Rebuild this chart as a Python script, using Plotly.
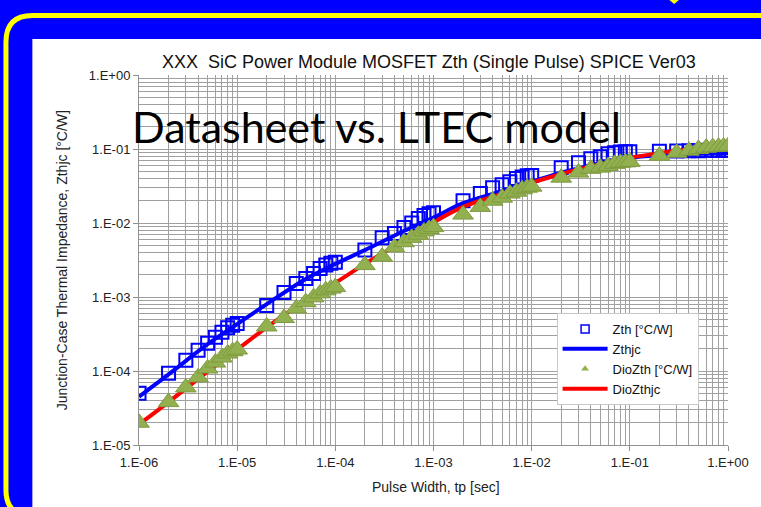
import plotly.graph_objects as go

# ---------------- data ----------------
pulse_width = [
    1e-6, 2e-6, 3e-6, 4e-6, 5e-6, 6e-6, 7e-6, 8e-6, 9e-6,
    1e-5, 2e-5, 3e-5, 4e-5, 5e-5, 6e-5, 7e-5, 8e-5, 9e-5,
    1e-4, 2e-4, 3e-4, 4e-4, 5e-4, 6e-4, 7e-4, 8e-4, 9e-4,
    1e-3, 2e-3, 3e-3, 4e-3, 5e-3, 6e-3, 7e-3, 8e-3, 9e-3,
    1e-2, 2e-2, 3e-2, 4e-2, 5e-2, 6e-2, 7e-2, 8e-2, 9e-2,
    1e-1, 2e-1, 3e-1, 4e-1, 5e-1, 6e-1, 7e-1, 8e-1, 9e-1,
    1.0,
]

zth = [
    5.0e-5, 9.3e-5, 1.40e-4, 1.90e-4, 2.37e-4, 2.85e-4, 3.33e-4, 3.85e-4, 4.15e-4,
    4.4e-4, 7.7e-4, 1.15e-3, 1.52e-3, 1.78e-3, 2.08e-3, 2.43e-3, 2.70e-3, 2.85e-3,
    2.95e-3, 4.3e-3, 6.3e-3, 7.2e-3, 8.7e-3, 1.0e-2, 1.15e-2, 1.26e-2, 1.33e-2,
    1.38e-2, 2.0e-2, 2.5e-2, 3.0e-2, 3.3e-2, 3.6e-2, 4.0e-2, 4.2e-2, 4.35e-2,
    4.4e-2, 5.6e-2, 6.5e-2, 7.4e-2, 7.85e-2, 8.6e-2, 8.9e-2, 9.1e-2, 9.2e-2,
    9.2e-2, 9.3e-2, 9.4e-2, 9.5e-2, 9.5e-2, 9.6e-2, 9.6e-2, 9.6e-2, 9.6e-2,
    9.6e-2,
]

dio_zth = [
    2.0e-5, 3.8e-5, 6.0e-5, 8.2e-5, 1.08e-4, 1.30e-4, 1.52e-4, 1.72e-4, 1.85e-4,
    1.95e-4, 4.0e-4, 5.2e-4, 7.0e-4, 8.5e-4, 9.9e-4, 1.12e-3, 1.23e-3, 1.30e-3,
    1.36e-3, 2.7e-3, 3.5e-3, 4.7e-3, 5.5e-3, 6.3e-3, 6.95e-3, 7.7e-3, 8.3e-3,
    8.8e-3, 1.3e-2, 1.65e-2, 2.0e-2, 2.2e-2, 2.5e-2, 2.65e-2, 2.85e-2, 3.0e-2,
    3.1e-2, 4.1e-2, 4.8e-2, 5.4e-2, 5.6e-2, 5.9e-2, 6.3e-2, 6.5e-2, 6.6e-2,
    6.7e-2, 8.1e-2, 8.9e-2, 9.5e-2, 1.0e-1, 1.04e-1, 1.06e-1, 1.07e-1, 1.08e-1,
    1.09e-1,
]

model_time = [
    1e-6, 2e-6, 5e-6, 1e-5, 2e-5, 5e-5, 1e-4, 2e-4, 5e-4, 1e-3,
    2e-3, 5e-3, 1e-2, 2e-2, 5e-2, 1e-1, 2e-1, 5e-1, 1.0,
]
zthjc = [
    4.5e-5, 9.0e-5, 2.3e-4, 4.3e-4, 8.0e-4, 1.75e-3, 2.8e-3, 4.3e-3, 7.8e-3, 1.18e-2,
    1.85e-2, 2.7e-2, 3.6e-2, 4.8e-2, 6.4e-2, 7.6e-2, 8.2e-2, 8.6e-2, 8.8e-2,
]
dio_zthjc = [
    1.9e-5, 3.8e-5, 9.8e-5, 1.95e-4, 3.9e-4, 9.0e-4, 1.55e-3, 2.8e-3, 5.8e-3, 1.02e-2,
    1.65e-2, 2.5e-2, 3.5e-2, 4.6e-2, 6.3e-2, 7.6e-2, 8.8e-2, 1.03e-1, 1.12e-1,
]

x_tick_vals = [1e-6, 1e-5, 1e-4, 1e-3, 1e-2, 1e-1, 1.0]
x_tick_text = ["1.E-06", "1.E-05", "1.E-04", "1.E-03", "1.E-02", "1.E-01", "1.E+00"]
y_tick_vals = [1e-5, 1e-4, 1e-3, 1e-2, 1e-1, 1.0]
y_tick_text = ["1.E-05", "1.E-04", "1.E-03", "1.E-02", "1.E-01", "1.E+00"]

title_text = "XXX  SiC Power Module MOSFET Zth (Single Pulse) SPICE Ver03"
overlay_text = "Datasheet vs. LTEC model"
x_title = "Pulse Width, tp [sec]"
y_title = "Junction-Case Thermal Impedance, Zthjc [°C/W]"

# ---------------- geometry helpers ----------------
W, H = 761, 507
L, R, T, B = 139, 730, 75, 445  # plot area in pixels


def px(x):
    return (x - L) / (R - L)


def py(y):
    return (B - y) / (B - T)


def minor_vals(lo, hi):
    vals = []
    for k in range(lo, hi):
        for m in range(2, 10):
            vals.append(m * 10.0 ** k)
    return vals


FONT = "Liberation Sans, Arial, sans-serif"
BLUE = "#0000FF"
RED = "#FF0000"
GREEN = "#92B050"

fig = go.Figure()

fig.add_trace(go.Scatter(
    x=pulse_width, y=zth, mode="markers", showlegend=False,
    marker=dict(symbol="square-open", size=13, color=BLUE, line=dict(width=2, color=BLUE)),
))
fig.add_trace(go.Scatter(
    x=model_time, y=zthjc, mode="lines", showlegend=False,
    line=dict(color=BLUE, width=4, shape="spline"),
))
fig.add_trace(go.Scatter(
    x=model_time, y=dio_zthjc, mode="lines", showlegend=False,
    line=dict(color=RED, width=4, shape="spline"),
))
fig.add_trace(go.Scatter(
    x=pulse_width, y=dio_zth, mode="markers", showlegend=False,
    marker=dict(symbol="triangle-up", size=18, color=GREEN, line=dict(width=1, color="#7F9A3F")),
))

# legend entries
fig.add_trace(go.Scatter(x=[None], y=[None], mode="markers", name="Zth [°C/W]",
                         marker=dict(symbol="square-open", size=8, color=BLUE, line=dict(width=1.5, color=BLUE))))
fig.add_trace(go.Scatter(x=[None], y=[None], mode="lines", name="Zthjc",
                         line=dict(color=BLUE, width=4)))
fig.add_trace(go.Scatter(x=[None], y=[None], mode="markers", name="DioZth [°C/W]",
                         marker=dict(symbol="triangle-up", size=7, color=GREEN, line=dict(width=0))))
fig.add_trace(go.Scatter(x=[None], y=[None], mode="lines", name="DioZthjc",
                         line=dict(color=RED, width=4)))

shapes = [
    # white slide area
    dict(type="rect", xref="paper", yref="paper", layer="below",
         x0=px(32), x1=px(W + 5), y0=py(H + 5), y1=py(39),
         fillcolor="white", line=dict(width=0)),
    # yellow rounded border
    dict(type="path", xref="paper", yref="paper", layer="below",
         path=(f"M {px(W + 10)},{py(15.5)} L {px(32)},{py(15.5)} "
               f"Q {px(5.5)},{py(15.5)} {px(5.5)},{py(42)} "
               f"L {px(5.5)},{py(490)} Q {px(5.5)},{py(516)} {px(32)},{py(516)} "
               f"L {px(W + 10)},{py(516)}"),
         line=dict(color="#FFFF00", width=5)),
    # small yellow mark at top
    dict(type="path", xref="paper", yref="paper", layer="below",
         path=f"M {px(670)},{py(-1)} L {px(682)},{py(-1)} L {px(676)},{py(4)} Z",
         fillcolor="#FFFF00", line=dict(width=0)),
]

annotations = [
    dict(text=title_text, xref="paper", yref="paper", x=px(430), y=py(62),
         xanchor="center", yanchor="middle", showarrow=False,
         font=dict(family=FONT, size=18, color="#111")),
    dict(text=y_title, xref="paper", yref="paper", x=px(62), y=py(260),
         xanchor="center", yanchor="middle", showarrow=False, textangle=-90,
         font=dict(family=FONT, size=14, color="#222")),
    dict(text=x_title, xref="paper", yref="paper", x=px(437), y=py(487),
         xanchor="center", yanchor="middle", showarrow=False,
         font=dict(family=FONT, size=14, color="#222")),
    dict(text=overlay_text, xref="paper", yref="paper", x=px(377), y=py(126),
         xanchor="center", yanchor="middle", showarrow=False,
         font=dict(family="Lato, Carlito, sans-serif", size=43, color="black")),
]

axis_common = dict(
    type="log", showgrid=True, gridcolor="#A0A0A0", gridwidth=1,
    showline=True, linecolor="#909090", linewidth=1, mirror=False,
    ticks="outside", ticklen=5, tickcolor="#909090", zeroline=False,
    tickfont=dict(family=FONT, size=13, color="#222"), tickmode="array",
)

fig.update_xaxes(
    **axis_common, range=[-6, 0], tickvals=x_tick_vals, ticktext=x_tick_text,
    minor=dict(tickmode="array", tickvals=minor_vals(-6, 0), showgrid=True,
               gridcolor="#A0A0A0", gridwidth=1, ticks=""),
)
fig.update_yaxes(
    **axis_common, range=[-5, 0], tickvals=y_tick_vals, ticktext=y_tick_text,
    minor=dict(tickmode="array", tickvals=minor_vals(-5, 0), showgrid=True,
               gridcolor="#A0A0A0", gridwidth=1, ticks=""),
)

fig.update_layout(
    width=W, height=H,
    margin=dict(l=L, r=W - R, t=T, b=H - B, pad=0),
    paper_bgcolor=BLUE, plot_bgcolor="white",
    shapes=shapes, annotations=annotations,
    legend=dict(x=px(558), y=py(313), xanchor="left", yanchor="top",
                bgcolor="white", bordercolor="#C8C8C8", borderwidth=1,
                font=dict(family=FONT, size=13, color="#111"),
                itemsizing="trace", itemwidth=45, tracegroupgap=0),
    font=dict(family=FONT),
)

fig.write_html(
    "out.html",
    config={"displayModeBar": False},
    post_script="document.body.style.margin='0';document.body.style.overflow='hidden';",
)
